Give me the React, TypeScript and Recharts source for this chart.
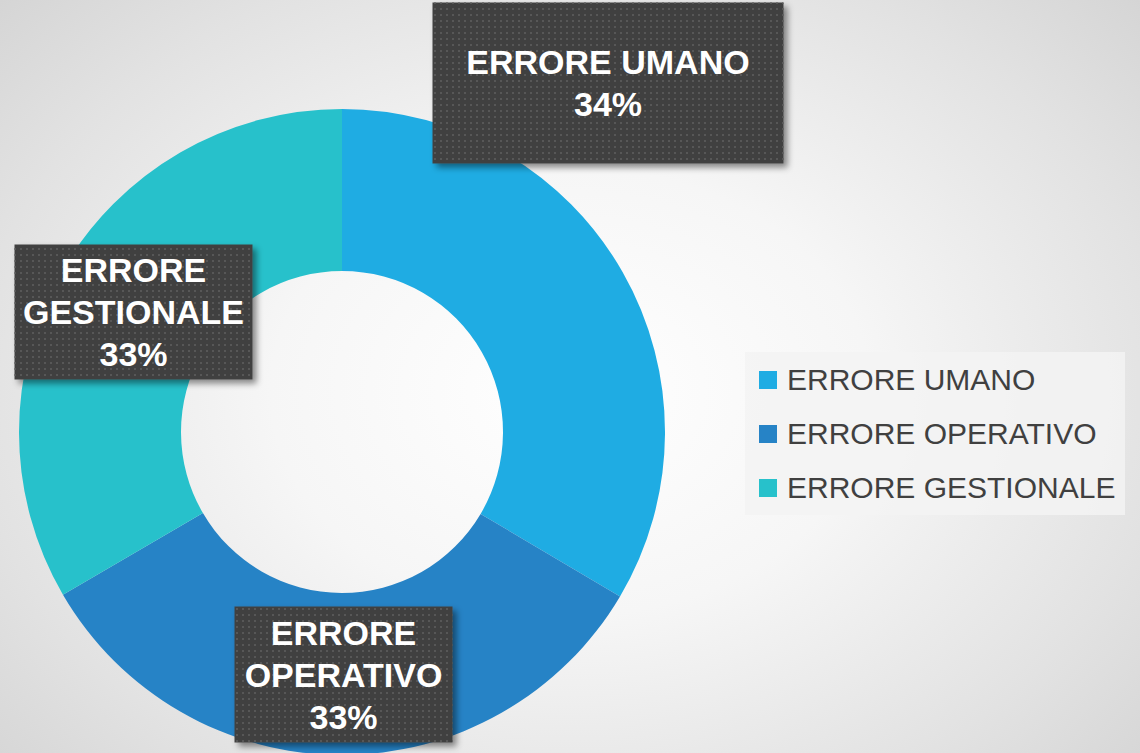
import React from 'react';
import { PieChart, Pie, Cell, Legend } from 'recharts';

const categories = ['ERRORE UMANO', 'ERRORE OPERATIVO', 'ERRORE GESTIONALE'];
const shares = [33.5, 33.1, 33.4];
const colors = ['#1FACE3', '#2683C6', '#27C1CB'];

const data = categories.map((name, i) => ({ name, value: shares[i] }));

// label boxes, offset from the donut centre
const labelBoxes = [
    { dx: 266, dy: -349, w: 351, h: 161, wrap: false },
    { dx: 1.5, dy: 242.5, w: 218, h: 136, wrap: true },
    { dx: -208.5, dy: -120, w: 238, h: 135, wrap: true },
];

const renderLabel = (props: any) => {
    const { cx, cy, index, name, percent } = props;
    const box = labelBoxes[index];
    const bx = cx + box.dx;
    const by = cy + box.dy;
    const lines = box.wrap ? name.split(' ') : [name];
    lines.push(`${Math.round(percent * 100)}%`);
    const step = 42;
    const top = by - ((lines.length - 1) * step) / 2;
    return (
        <g key={`lbl-${index}`}>
            <rect
                x={bx - box.w / 2}
                y={by - box.h / 2}
                width={box.w}
                height={box.h}
                fill="#404040"
                filter="url(#boxShadow)"
            />
            <rect
                x={bx - box.w / 2}
                y={by - box.h / 2}
                width={box.w}
                height={box.h}
                fill="url(#dots)"
            />
            {lines.map((ln: string, i: number) => (
                <text
                    key={i}
                    x={bx}
                    y={top + i * step}
                    textAnchor="middle"
                    dominantBaseline="central"
                    fill="#ffffff"
                    fontFamily="'Liberation Sans', Arial, sans-serif"
                    fontWeight="bold"
                    fontSize={34}
                >
                    {ln}
                </text>
            ))}
        </g>
    );
};

const LegendBox = () => (
    <div
        style={{
            width: 380,
            height: 163,
            background: 'rgba(243,243,243,0.85)',
            boxSizing: 'border-box',
            paddingTop: 1,
            paddingLeft: 14,
        }}
    >
        {categories.map((c, i) => (
            <div key={c} style={{ display: 'flex', alignItems: 'center', height: 54 }}>
                <div style={{ width: 18, height: 18, background: colors[i], marginRight: 10 }} />
                <span
                    style={{
                        fontFamily: "'Liberation Sans', Arial, sans-serif",
                        fontSize: 30,
                        color: '#404040',
                        whiteSpace: 'nowrap',
                    }}
                >
                    {c}
                </span>
            </div>
        ))}
    </div>
);

export default function App() {
    return (
        <div
            style={{
                position: 'absolute',
                left: 0,
                top: 0,
                width: 1140,
                height: 753,
                overflow: 'hidden',
                background: 'radial-gradient(ellipse 75% 85% at 50% 52%, #ffffff 0%, #f6f6f6 35%, #e2e2e2 70%, #cfcfcf 100%)',
            }}
        >
            <PieChart width={1140} height={753} margin={{ top: 0, right: 0, bottom: 0, left: 0 }}>
                <defs>
                    <pattern id="dots" width="6" height="6" patternUnits="userSpaceOnUse">
                        <rect x="2" y="2" width="2" height="2" fill="#575757" />
                    </pattern>
                    <filter id="boxShadow" x="-10%" y="-10%" width="125%" height="130%">
                        <feDropShadow dx="4" dy="4" stdDeviation="3" floodColor="#000" floodOpacity="0.45" />
                    </filter>
                </defs>
                <Pie
                    data={data}
                    dataKey="value"
                    nameKey="name"
                    cx={342}
                    cy={432}
                    innerRadius={161}
                    outerRadius={323}
                    startAngle={90}
                    endAngle={-270}
                    stroke="none"
                    label={renderLabel}
                    labelLine={false}
                    isAnimationActive={false}
                >
                    {data.map((d, i) => (
                        <Cell key={d.name} fill={colors[i]} />
                    ))}
                </Pie>
                <Legend
                    content={<LegendBox />}
                    wrapperStyle={{ position: 'absolute', left: 745, top: 352, width: 380, bottom: 'auto', right: 'auto' }}
                />
            </PieChart>
        </div>
    );
}
